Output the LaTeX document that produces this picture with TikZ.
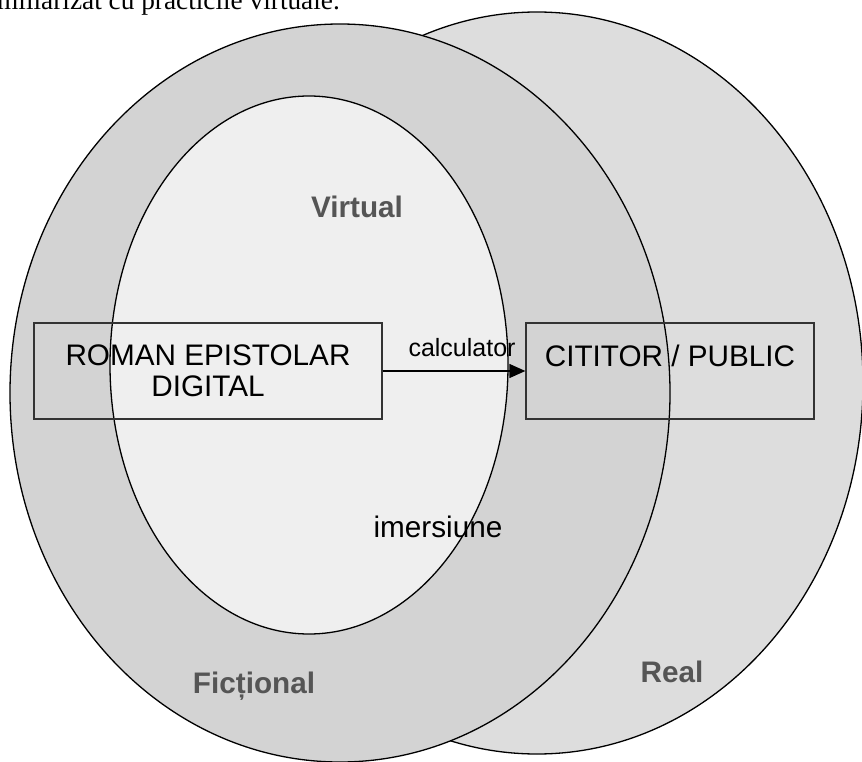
\documentclass[tikz,border=0pt]{standalone}
\usepackage{fontspec}
\setmainfont{Liberation Sans}
\newfontfamily\serifface{Liberation Serif}
\usetikzlibrary{arrows.meta}
\definecolor{fictfill}{HTML}{D3D3D3}
\definecolor{realfill}{HTML}{DDDDDD}
\definecolor{virtfill}{HTML}{EFEFEF}
\definecolor{labelgray}{HTML}{555555}
\definecolor{boxline}{HTML}{333333}
\tikzset{
  area/.style={draw=black, line width=1.3pt},
  zonelabel/.style={text=labelgray, font=\fontsize{29.7}{34}\selectfont\bfseries, inner sep=0pt},
  boxnode/.style={draw=boxline, line width=1.3pt, rectangle, inner sep=0pt, align=center,
    font=\fontsize{29.7}{31}\selectfont, text=black, minimum height=96pt},
  plainlabel/.style={font=\fontsize{29.7}{34}\selectfont, inner sep=0pt, text=black},
  smalllabel/.style={font=\fontsize{25}{29}\selectfont, inner sep=0pt, text=black},
}
\begin{document}
\begin{tikzpicture}[x=1pt, y=-1pt]
\useasboundingbox (0,0) rectangle (862,762);
\clip (0,0) rectangle (862,762);
% top cut-off sentence
\node[anchor=base east, inner sep=0pt, font=\serifface\fontsize{27.3}{30}\selectfont] (topline) at (340,10) {familiarizat cu practicile virtuale.};
% zones
\draw[area, fill=realfill] (537,383) ellipse [x radius=326pt, y radius=371pt];
\draw[area, fill=fictfill] (340,393) ellipse [x radius=330pt, y radius=369pt];
\draw[area, fill=virtfill] (309,365) ellipse [x radius=199pt, y radius=269pt];
% boxes
\node[boxnode, minimum width=348pt] (roman) at (208,371) {ROMAN EPISTOLAR\\DIGITAL};
\node[boxnode, minimum width=288pt] (cititor) at (670,371) {CITITOR / PUBLIC\\\mbox{}};
\draw[line width=1.3pt, -{Triangle[length=16pt,width=14pt]}] (roman.east) -- (cititor.west);
\node[smalllabel] (calc) at (462,348) {calculator};
% labels
\node[zonelabel] (virtual) at (357,207) {Virtual};
\node[zonelabel] (fictional) at (254,686) {Ficțional};
\node[zonelabel] (real) at (672,672) {Real};
\node[plainlabel] (imers) at (438,527) {imersiune};
\end{tikzpicture}
\end{document}
